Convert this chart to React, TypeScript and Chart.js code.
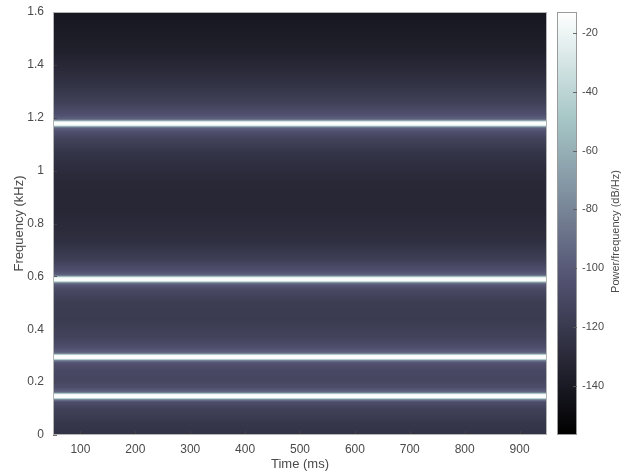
import React, { useEffect, useRef } from "react";
import { Chart, registerables } from "chart.js";

Chart.register(...registerables);

// Time axis (ms)
const timeRangeMs = [50, 950];
const timeTicks = [100, 200, 300, 400, 500, 600, 700, 800, 900];

// Frequency axis (kHz)
const freqRangeKHz = [0, 1.6];
const freqTicks = [0, 0.2, 0.4, 0.6, 0.8, 1, 1.2, 1.4, 1.6];

// Spectral profile (constant over time): frequency (kHz) -> power (dB/Hz)
const freqKHz = [
  0.0, 0.05, 0.1, 0.125, 0.129, 0.134, 0.138, 0.141, 0.147, 0.153, 0.156, 0.16, 0.165, 0.18,
  0.21, 0.245, 0.27, 0.277, 0.282, 0.286, 0.289, 0.295, 0.301, 0.304, 0.308, 0.313, 0.33,
  0.37, 0.44, 0.5, 0.545, 0.563, 0.571, 0.576, 0.58, 0.583, 0.589, 0.595, 0.598, 0.602, 0.607,
  0.62, 0.66, 0.74, 0.85, 0.96, 1.06, 1.12, 1.148, 1.16, 1.165, 1.169, 1.172, 1.178,
  1.184, 1.187, 1.191, 1.196, 1.21, 1.26, 1.35, 1.45, 1.6,
];
const powerDb = [
  -124, -121, -115, -107, -97, -80, -40, -16, -13, -16, -40, -80, -97, -107,
  -112, -110, -105, -97, -80, -40, -16, -13, -16, -40, -80, -97, -106,
  -114, -119, -118, -111, -104, -97, -80, -40, -16, -13, -16, -40, -80, -97,
  -105, -116, -127, -132, -131, -124, -114, -105, -97, -80, -40, -16, -13,
  -16, -40, -80, -97, -105, -116, -127, -136, -142,
];

// Colour bar
const colorRangeDb = [-156.7, -12.9];
const colorTicks = [-140, -120, -100, -80, -60, -40, -20];
const colorbarTitle = "Power/frequency (dB/Hz)";

const clamp = (v: number) => Math.max(0, Math.min(1, v));
function bone(t: number): string {
  t = clamp(t);
  const r = (7 * t + clamp((t - 0.75) / 0.25)) / 8;
  const g = (7 * t + clamp((t - 0.375) / 0.375)) / 8;
  const b = (7 * t + clamp(t / 0.375)) / 8;
  return `rgb(${Math.round(r * 255)},${Math.round(g * 255)},${Math.round(b * 255)})`;
}
const dbColor = (db: number) =>
  bone((db - colorRangeDb[0]) / (colorRangeDb[1] - colorRangeDb[0]));

const tickColor = "#4a4a4a";
const FONT = "'Liberation Sans', Arial, Helvetica, sans-serif";

const spectrogramPlugin = {
  id: "spectrogram",
  beforeDatasetsDraw(chart: any) {
    const { ctx, chartArea, scales } = chart;
    const x = scales.x;
    const y = scales.y;
    const cb = scales.cb;
    const x0 = x.getPixelForValue(timeRangeMs[0]);
    const x1 = x.getPixelForValue(timeRangeMs[1]);
    const yB = y.getPixelForValue(freqRangeKHz[0]);
    const yT = y.getPixelForValue(freqRangeKHz[1]);
    ctx.save();
    // spectrogram bands
    const grad = ctx.createLinearGradient(0, yB, 0, yT);
    const span = freqRangeKHz[1] - freqRangeKHz[0];
    for (let i = 0; i < freqKHz.length - 1; i++) {
      const steps = 6;
      for (let k = 0; k < steps; k++) {
        const a = k / steps;
        const f = freqKHz[i] + (freqKHz[i + 1] - freqKHz[i]) * a;
        const d = powerDb[i] + (powerDb[i + 1] - powerDb[i]) * a;
        grad.addColorStop(clamp((f - freqRangeKHz[0]) / span), dbColor(d));
      }
    }
    grad.addColorStop(1, dbColor(powerDb[powerDb.length - 1]));
    ctx.fillStyle = grad;
    ctx.fillRect(x0, yT, x1 - x0, yB - yT);

    // inward tick marks
    ctx.strokeStyle = "rgba(70,70,70,0.8)";
    ctx.lineWidth = 1;
    ctx.beginPath();
    timeTicks.forEach((t) => {
      const px = Math.round(x.getPixelForValue(t)) + 0.5;
      ctx.moveTo(px, chartArea.bottom);
      ctx.lineTo(px, chartArea.bottom - 4);
    });
    freqTicks.forEach((f) => {
      const py = Math.round(y.getPixelForValue(f)) + 0.5;
      ctx.moveTo(chartArea.left, py);
      ctx.lineTo(chartArea.left + 4, py);
    });
    ctx.stroke();

    // frame
    ctx.strokeStyle = "#b4b4b4";
    ctx.strokeRect(
      Math.round(chartArea.left) + 0.5,
      Math.round(chartArea.top) + 0.5,
      Math.round(chartArea.right - chartArea.left) - 1,
      Math.round(chartArea.bottom - chartArea.top) - 1
    );

    // colour bar
    const cbL = chartArea.right + 10;
    const cbR = chartArea.right + 30;
    const cT = cb.getPixelForValue(colorRangeDb[1]);
    const cBt = cb.getPixelForValue(colorRangeDb[0]);
    const g2 = ctx.createLinearGradient(0, cBt, 0, cT);
    for (let k = 0; k <= 20; k++) {
      const a = k / 20;
      g2.addColorStop(a, dbColor(colorRangeDb[0] + (colorRangeDb[1] - colorRangeDb[0]) * a));
    }
    ctx.fillStyle = g2;
    ctx.fillRect(cbL, cT, cbR - cbL, cBt - cT);
    ctx.strokeStyle = "#9a9a9a";
    ctx.strokeRect(Math.round(cbL) + 0.5, Math.round(cT) + 0.5, cbR - cbL - 1, Math.round(cBt - cT) - 1);
    ctx.strokeStyle = "rgba(90,90,90,0.9)";
    ctx.beginPath();
    colorTicks.forEach((v) => {
      const py = Math.round(cb.getPixelForValue(v)) + 0.5;
      ctx.moveTo(cbR - 4, py);
      ctx.lineTo(cbR, py);
    });
    ctx.stroke();

    // colour bar title (reads bottom to top)
    ctx.save();
    ctx.translate(616, (cT + cBt) / 2 + 8);
    ctx.rotate(-Math.PI / 2);
    ctx.fillStyle = tickColor;
    ctx.font = `11px ${FONT}`;
    ctx.textAlign = "center";
    ctx.textBaseline = "middle";
    ctx.fillText(colorbarTitle, 0, 0);
    ctx.restore();

    ctx.restore();
  },
};

const fmt = (v: number) => String(Number(v.toFixed(2)));
const hiddenGrid = (len: number) => ({
  display: true,
  drawOnChartArea: false,
  drawTicks: true,
  tickLength: len,
  color: "rgba(0,0,0,0)",
  tickColor: "rgba(0,0,0,0)",
});

export default function App() {
  const ref = useRef<HTMLCanvasElement | null>(null);
  useEffect(() => {
    if (!ref.current) return;
    const chart = new Chart(ref.current, {
      type: "scatter",
      data: { datasets: [] },
      plugins: [spectrogramPlugin],
      options: {
        animation: false,
        responsive: false,
        maintainAspectRatio: false,
        layout: { padding: { top: 12, left: 0, right: 0, bottom: 0 } },
        plugins: { legend: { display: false }, tooltip: { enabled: false } },
        scales: {
          x: {
            type: "linear",
            position: "bottom",
            min: timeRangeMs[0],
            max: timeRangeMs[1],
            afterBuildTicks: (s: any) => {
              s.ticks = timeTicks.map((v) => ({ value: v }));
            },
            afterFit: (s: any) => {
              s.height = 38;
            },
            grid: hiddenGrid(7),
            border: { display: false },
            ticks: {
              padding: 0,
              color: tickColor,
              font: { family: FONT, size: 12 },
              maxRotation: 0,
              autoSkip: false,
              callback: (v: any) => fmt(Number(v)),
            },
            title: {
              display: true,
              text: "Time (ms)",
              color: tickColor,
              font: { family: FONT, size: 13 },
              padding: { top: 0, bottom: 1 },
            },
          },
          y: {
            type: "linear",
            position: "left",
            min: freqRangeKHz[0],
            max: freqRangeKHz[1],
            afterBuildTicks: (s: any) => {
              s.ticks = freqTicks.map((v) => ({ value: v }));
            },
            afterFit: (s: any) => {
              s.width = 53;
            },
            grid: hiddenGrid(9),
            border: { display: false },
            ticks: {
              padding: 0,
              color: tickColor,
              font: { family: FONT, size: 12 },
              autoSkip: false,
              callback: (v: any) => fmt(Number(v)),
            },
            title: {
              display: true,
              text: "Frequency (kHz)",
              color: tickColor,
              font: { family: FONT, size: 13 },
              padding: { top: 12, bottom: 0 },
            },
          },
          cb: {
            type: "linear",
            position: "right",
            min: colorRangeDb[0],
            max: colorRangeDb[1],
            afterBuildTicks: (s: any) => {
              s.ticks = colorTicks.map((v) => ({ value: v }));
            },
            afterFit: (s: any) => {
              s.width = 82;
            },
            grid: hiddenGrid(35),
            border: { display: false },
            ticks: {
              padding: 0,
              color: tickColor,
              font: { family: FONT, size: 11 },
              autoSkip: false,
              callback: (v: any) => fmt(Number(v)),
            },
          },
        },
      },
    } as any);
    return () => chart.destroy();
  }, []);
  return (
    <div style={{ position: "fixed", left: 0, top: 0, width: 629, height: 473, background: "#fff" }}>
      <canvas ref={ref} width={629} height={473} style={{ width: 629, height: 473, display: "block" }} />
    </div>
  );
}
